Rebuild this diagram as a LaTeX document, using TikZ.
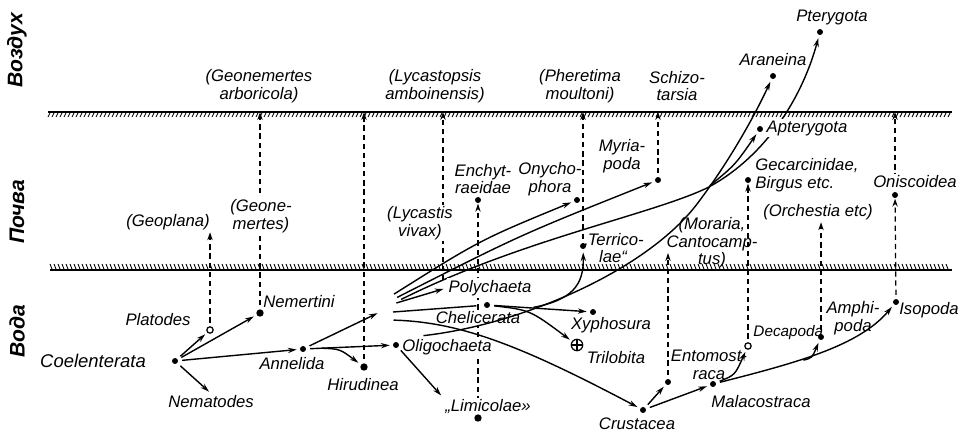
\documentclass[tikz,border=0pt]{standalone}
\usepackage{fontspec}
\setmainfont{Liberation Sans}
\usetikzlibrary{arrows.meta,positioning,calc,backgrounds}

\tikzset{
  taxdot/.style={circle,fill,inner sep=0pt,minimum size=3.4pt},
  bigdot/.style={circle,fill,inner sep=0pt,minimum size=4.2pt},
  opendot/.style={circle,draw,fill=white,inner sep=0pt,minimum size=3.6pt,line width=0.7pt},
  extinct/.style={circle,draw,fill=white,inner sep=0pt,minimum size=6.5pt,line width=0.7pt},
  taxon/.style={inner sep=1pt,align=center},
  ctaxon/.style={taxon,fill=white},
  realm/.style={rotate=90,font=\fontsize{12}{12}\selectfont\bfseries\itshape},
  arr/.style={-{Stealth[length=5pt,width=3pt]},line width=0.8pt,shorten >=1.5pt,shorten <=2pt},
  dashline/.style={dash pattern=on 3pt off 2.2pt,line width=0.7pt},
  darr/.style={dashline,-{Stealth[length=4.5pt,width=3pt]},shorten <=2pt}
}

\begin{document}
\begin{tikzpicture}[x=0.02cm,y=-0.02cm,line width=0.8pt,
  font=\fontsize{9.5}{10}\selectfont\itshape]
\useasboundingbox (0,0) rectangle (963,434);

% draw the two boundaries with hatching
\draw[line width=1.3pt] (48,112) -- (952,112);
\foreach \x in {50,54,...,950}
  \draw[line width=0.5pt] (\x,113) -- (\x-2,117);
\draw[line width=1.3pt] (50,270) -- (952,270);
\foreach \x in {52,56,...,950}
  \draw[line width=0.5pt] (\x-2,264) -- (\x,269);
\coordinate (air) at (48,112);
\coordinate (soil) at (50,270);

% realms
\node[realm] (luft) at (17,50) {Воздух};
\node[realm] (boden) at (17,212) {Почва};
\node[realm] (wasser) at (17,331) {Вода};

% labels in the water
\node[taxon,font=\fontsize{10.5}{11}\selectfont\itshape] (coell) at (93,361) {Coelenterata};
\node[taxon] (platl) at (158,320) {Platodes};
\node[taxon] (nemtl) at (299,302) {Nemertini};
\node[taxon] (nemal) at (211,402) {Nematodes};
\node[taxon] (annel) at (292,364) {Annelida};
\node[taxon] (hirul) at (363,385) {Hirudinea};
\node[ctaxon] (oligl) at (447,347) {Oligochaeta};
\node[ctaxon] (limil) at (488,407) {„Limicolae»};
\node[ctaxon] (polyl) at (490,288) {Polychaeta};
\node[ctaxon] (chell) at (478,318) {Chelicerata};
\node[taxon] (xyphl) at (611,325) {Xyphosura};
\node[taxon] (trill) at (616,358) {Trilobita};
\node[taxon] (crusl) at (637,424) {Crustacea};
\node[taxon] (ental) at (709,365) {Entomost-\\raca};
\node[taxon] (malal) at (761,402) {Malacostraca};
\node[taxon,anchor=west,font=\fontsize{8.7}{9}\selectfont\itshape] (decal) at (751,333) {Decapoda};
\node[taxon] (amphl) at (853,318) {Amphi-\\poda};
\node[taxon] (isol) at (929,310) {Isopoda};

% labels in the soil
\node[taxon] (geopl) at (168,222) {(Geoplana)};
\node[taxon] (geonl) at (261,216) {(Geone-\\mertes)};
\node[ctaxon] (lycvl) at (420,223) {(Lycastis\\vivax)};
\node[taxon] (enchl) at (483,179) {Enchyt-\\raeidae};
\node[taxon] (onycl) at (550,179) {Onycho-\\phora};
\node[taxon] (terrl) at (613,248) {„Terrico-\\lae“};
\node[taxon] (myril) at (622,156) {Myria-\\poda};
\node[ctaxon] (aptel) at (807,128) {Apterygota};
\node[taxon,align=left,anchor=west] (gecal) at (753,175) {Gecarcinidae,\\Birgus etc.};
\node[ctaxon] (onisl) at (915,182) {Oniscoidea};
\node[taxon] (orchl) at (818,212) {(Orchestia etc)};
\node[taxon] (moral) at (712,243) {(Moraria,\\Cantocamp-\\tus)};

% labels in the air
\node[taxon] (arbol) at (259,86) {(Geonemertes\\arboricola)};
\node[taxon] (amboil) at (435,86) {(Lycastopsis\\amboinensis)};
\node[taxon] (pherl) at (580,86) {(Pheretima\\moultoni)};
\node[taxon] (schil) at (677,86) {Schizo-\\tarsia};
\node[taxon] (aranl) at (773,60) {Araneina};
\node[taxon] (pterl) at (832,17) {Pterygota};

% dots
\node[taxdot] (coel) at (175,361) {};
\node[opendot] (plat) at (210,330) {};
\node[bigdot] (nemt) at (260,313) {};
\node[taxdot] (anne) at (303,349) {};
\node[bigdot] (hiru) at (364,367) {};
\node[taxdot] (olig) at (396,345) {};
\node[bigdot] (limi) at (478,418) {};
\node[taxdot] (chel) at (487,305) {};
\node[taxdot] (xyph) at (593,312) {};
\node[extinct] (tril) at (577,345) {};
\draw[line width=0.6pt] (tril.north) -- (tril.south) (tril.west) -- (tril.east);
\node[taxdot] (ench) at (478,200) {};
\node[taxdot] (onyc) at (577,200) {};
\node[taxdot] (terr) at (583,246) {};
\node[taxdot] (myri) at (658,180) {};
\node[taxdot] (aran) at (773,76) {};
\node[taxdot] (pter) at (820,32) {};
\node[taxdot] (apte) at (760,129) {};
\node[taxdot] (geca) at (748,180) {};
\node[taxdot] (onis) at (895,195) {};
\node[taxdot] (crus) at (643,410) {};
\node[taxdot] (ento) at (668,382) {};
\node[taxdot] (mala) at (713,384) {};
\node[opendot] (deca) at (748,346) {};
\node[taxdot] (amph) at (821,337) {};
\node[taxdot] (iso) at (896,302) {};

% branch points
\coordinate (fan) at (380,312);
\coordinate (hb) at (318,348);
\coordinate (fa) at (391,296);
\coordinate (fb) at (394,299);
\coordinate (fc) at (398,301);
\coordinate (fd) at (393,304);
\coordinate (fe) at (393,312);
\coordinate (ff) at (390,320);
\coordinate (fg) at (420,336);
\coordinate (fork) at (707,188);
\coordinate (cx) at (530,308);
\coordinate (ab) at (800,361);
\coordinate (pd) at (443,284);

% dashed moves into soil and air
\begin{scope}[on background layer]
\draw[darr] (plat) -- (plat |- geopl.south);
\draw[dashline,shorten <=2pt] (nemt) -- (nemt |- geonl.south);
\draw[darr] (nemt |- geonl.north) -- (nemt |- air);
\draw[darr] (hiru) -- (hiru |- air);
\draw[darr] (pd) -- (pd |- air);
\draw[darr] (limi) -- (ench);
\draw[darr] (terr) -- (terr |- air);
\draw[darr] (myri) -- (myri |- air);
\draw[darr] (ento) -- ($(ento |- moral)+(0,10)$);
\draw[darr] (deca) -- (geca);
\draw[darr] (amph) -- (amph |- orchl.south);
\draw[darr] (iso) -- (onis);
\draw[darr] (onis) -- (onis |- air);
% the line to Pterygota runs behind the Apterygota label
\draw[arr] (fc) .. controls (520,240) and (650,215) .. (fork)
  .. controls (760,160) and (800,105) .. (pter);
\end{scope}

% descent lines
\draw[arr] (coel) -- (plat);
\draw[arr] (coel) -- (nemt);
\draw[arr] (coel) -- (anne);
\draw[arr] (coel) -- (nemal.north);
\draw[arr] (anne) -- (fan);
\draw[arr] (anne) -- (olig);
\draw[arr] (hb) .. controls (340,349) .. (hiru);
\draw[arr] (olig) -- (limil.north west);

\draw[arr] (fa) .. controls (480,240) .. (onyc);
\draw[arr] (fb) .. controls (520,235) .. (myri);
\draw[arr] (fork) .. controls (735,165) .. (apte);
\draw[arr] (fd) -- (polyl.west);
\draw[shorten >=4pt] (fe) -- (chel);
\draw[arr] (ff) .. controls (460,322) and (520,345) .. (crus);
\draw[arr] (fg) .. controls (520,325) and (650,270) .. (700,200)
  .. controls (730,160) and (755,115) .. (aran);

\draw[arr] (chel) -- (xyph);
\draw[arr] (chel) .. controls (530,310) .. (tril);
\draw[arr] (cx) .. controls (572,300) and (584,285) .. (terr);

\draw[arr] (crus) -- (ento);
\draw[arr] (crus) -- (mala);
\draw[arr] (mala) .. controls (735,375) .. (deca);
\draw[arr] (mala) .. controls (800,362) and (860,345) .. (iso);
\draw[arr] (ab) .. controls (812,358) .. (amph);
\end{tikzpicture}
\end{document}
